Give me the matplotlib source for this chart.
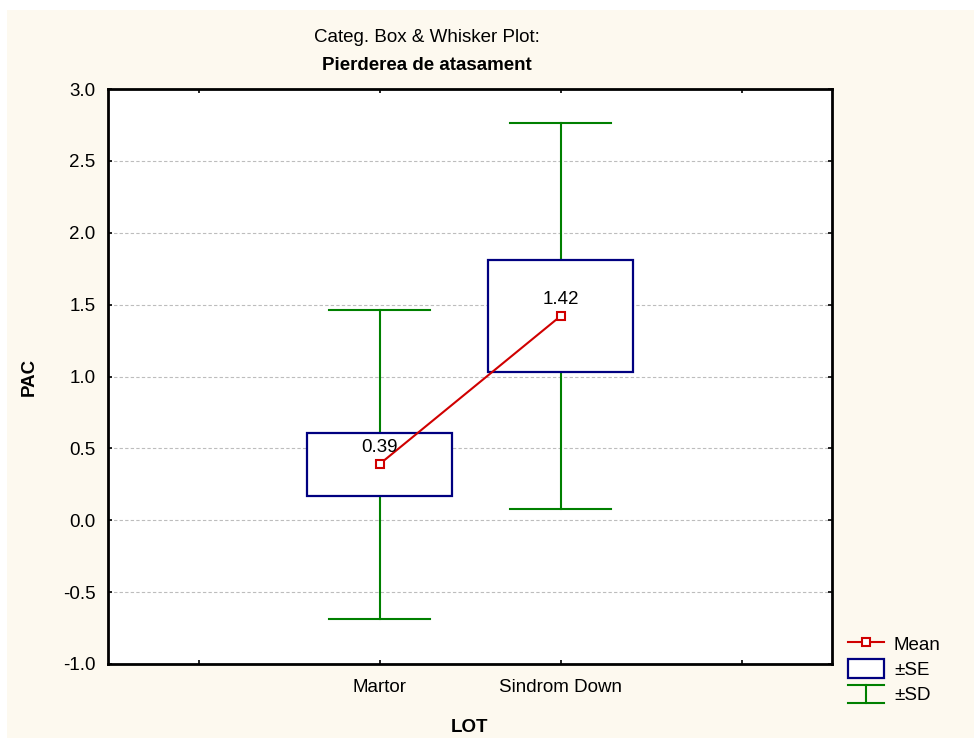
import matplotlib
matplotlib.use('Agg')
import matplotlib.pyplot as plt
from matplotlib.patches import Rectangle
from matplotlib.lines import Line2D
from matplotlib.legend_handler import HandlerBase

plt.rcParams['font.family'] = ['Liberation Sans', 'DejaVu Sans']

# group statistics
groups = ['Martor', 'Sindrom Down']
means = [0.39, 1.42]
se = [0.22, 0.39]
sd = [1.075, 1.345]

yticks = [-1.0, -0.5, 0.0, 0.5, 1.0, 1.5, 2.0, 2.5, 3.0]

red = '#D00000'
navy = '#000080'
green = '#008000'
cream = '#FDF9EF'
fs = 13.5

fig = plt.figure(figsize=(9.74, 7.38), dpi=100, facecolor='white')
fig.patches.append(Rectangle((7 / 974, 0), 1, 1 - 10 / 738, transform=fig.transFigure,
                             facecolor=cream, edgecolor='none', zorder=-10))

ax = fig.add_axes([108 / 974, 1 - 664 / 738, 724 / 974, 575 / 738])
ax.set_facecolor('white')

xs = [1, 2]
box_w = 0.8
cap_w = 0.56
for x, m, e, d in zip(xs, means, se, sd):
    # +-SD whisker
    ax.plot([x, x], [m - d, m + d], color=green, lw=1.5, zorder=2)
    ax.plot([x - cap_w / 2, x + cap_w / 2], [m + d, m + d], color=green, lw=1.5, zorder=2)
    ax.plot([x - cap_w / 2, x + cap_w / 2], [m - d, m - d], color=green, lw=1.5, zorder=2)
    # +-SE box
    ax.add_patch(Rectangle((x - box_w / 2, m - e), box_w, 2 * e, facecolor='white',
                           edgecolor=navy, lw=1.6, zorder=3))
    ax.annotate(f'{m:.2f}', (x, m), xytext=(0, 6), textcoords='offset points',
                ha='center', va='bottom', fontsize=fs, zorder=5)

ax.plot(xs, means, color=red, lw=1.5, marker='s', ms=6, mfc='white', mec=red,
        mew=1.5, zorder=4)

ax.set_xlim(-0.5, 3.5)
ax.set_ylim(-1.0, 3.0)
ax.set_yticks(yticks)
ax.set_yticklabels([f'{v:.1f}' for v in yticks])
ax.set_xticks([0, 1, 2, 3])
ax.set_xticklabels(['', groups[0], groups[1], ''])
ax.tick_params(direction='in', length=3, width=1.2, top=True, right=True, labelsize=fs)
ax.tick_params(axis='y', pad=9)
ax.tick_params(axis='x', pad=11)
for y in yticks[1:-1]:
    ax.axhline(y, color='#BDBDBD', lw=0.8, ls=(0, (3, 2)), zorder=1)
for s in ax.spines.values():
    s.set_linewidth(2)

ax.set_xlabel('LOT', fontsize=fs, fontweight='bold', labelpad=16)
ax.set_ylabel('PAC', fontsize=fs, fontweight='bold', labelpad=18)

fig.text(427 / 974, 1 - 38 / 738, 'Categ. Box & Whisker Plot:', ha='center', va='center', fontsize=fs)
fig.text(427 / 974, 1 - 66 / 738, 'Pierderea de atasament', ha='center', va='center',
         fontsize=fs, fontweight='bold')


class SDHandler(HandlerBase):
    def create_artists(self, legend, orig_handle, xdescent, ydescent, width, height, fontsize, trans):
        x0, x1 = -xdescent, -xdescent + width
        y0, y1 = -ydescent, -ydescent + height
        xm = (x0 + x1) / 2
        arts = [Line2D([x0, x1], [y1, y1]), Line2D([x0, x1], [y0, y0]), Line2D([xm, xm], [y0, y1])]
        for a in arts:
            a.set_color(green)
            a.set_linewidth(1.5)
            a.set_transform(trans)
        return arts


class SDKey:
    pass


h_mean = Line2D([], [], color=red, lw=1.5, marker='s', ms=6, mfc='white', mec=red, mew=1.5)
h_se = Rectangle((0, 0), 1, 1, facecolor='white', edgecolor=navy, lw=1.6)
h_sd = SDKey()
fig.legend([h_mean, h_se, h_sd], ['Mean', '\u00b1SE', '\u00b1SD'],
           handler_map={SDKey: SDHandler()}, loc='upper left',
           bbox_to_anchor=(848 / 974, 1 - 634 / 738), bbox_transform=fig.transFigure,
           frameon=False, fontsize=fs, handlelength=1.9, handleheight=1.15,
           handletextpad=0.55, labelspacing=0.3, borderpad=0, borderaxespad=0)

fig.savefig('out.png', dpi=100, facecolor=fig.get_facecolor())
